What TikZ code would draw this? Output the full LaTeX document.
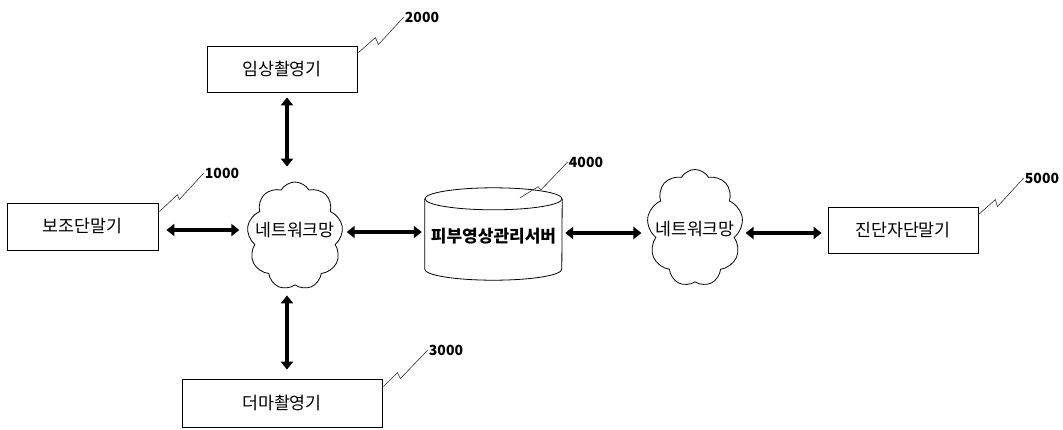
\documentclass[tikz,border=0pt]{standalone}
\usepackage{fontspec}
\setmainfont{Noto Sans CJK KR}
\usetikzlibrary{shapes.symbols,arrows.meta,calc}
\begin{document}
\begin{tikzpicture}[x=1pt,y=-1pt,
 box/.style={draw,line width=0.8pt,inner sep=0pt,font=\fontsize{17.3}{20}\selectfont},
 net/.style={cloud,draw,line width=0.8pt,cloud puffs=9,cloud puff arc=120,cloud ignores aspect,inner sep=0pt},
 nettext/.style={font=\fontsize{17.3}{20}\selectfont,inner sep=0pt},
 dbl/.style={line width=4pt,{Triangle[length=8pt,width=12pt]}-{Triangle[length=8pt,width=12pt]}},
 leader/.style={line width=0.6pt,black!80},
 num/.style={font=\bfseries\fontsize{14}{16}\selectfont,inner sep=1pt}]
\useasboundingbox[fill=white] (0,0) rectangle (1063,429);

% boxes
\node[box,minimum width=150pt,minimum height=46pt] (b2) at (282,69) {임상촬영기};
\node[box,minimum width=151pt,minimum height=47pt] (b1) at (82.5,226.5) {보조단말기};
\node[box,minimum width=200pt,minimum height=48pt] (b3) at (282,403) {더마촬영기};
\node[box,minimum width=150pt,minimum height=46pt] (b5) at (903,230) {진단자단말기};

% clouds
\node[net,minimum width=96pt,minimum height=108pt] (c1) at (295,236) {};
\node[nettext] (c1t) at (295,230) {네트워크망};
\node[net,minimum width=96pt,minimum height=117pt] (c2) at (695,228) {};
\node[nettext] (c2t) at (695,229) {네트워크망};

% server cylinder
\node[minimum width=137pt,minimum height=92pt,inner sep=0pt] (srv) at (493.5,234) {};
\draw[line width=0.8pt] ($(srv.north)+(0,11)$) ellipse [x radius=68.5pt, y radius=11pt];
\draw[line width=0.8pt] ($(srv.north west)+(0,11)$) -- ($(srv.south west)+(0,-11)$)
  arc[start angle=180,end angle=360,x radius=68.5pt,y radius=11pt]
  -- ($(srv.north east)+(0,11)$);
\node[font=\bfseries\fontsize{17}{20}\selectfont,inner sep=0pt] (srvt) at (493.5,236) {피부영상관리서버};

% labels
\node[num] (l2) at (422,17) {2000};
\node[num] (l1) at (222,173) {1000};
\node[num] (l4) at (586,162) {4000};
\node[num] (l5) at (1042,178) {5000};
\node[num] (l3) at (446,350) {3000};

% leaders
\draw[leader] ($(b2.north east)+(1,7)$) -- ++(17,-15) -- ++(3,7) -- (l2.west);
\draw[leader] ($(b1.north east)+(1,9)$) -- ++(18,-17) -- ++(2,5) -- (l1.west);
\draw[leader] ($(srv.north)+(26.5,10)$) -- ++(18,-11) -- ++(3,3) -- (l4.west);
\draw[leader] ($(b5.north east)+(0,8)$) -- ++(17,-15) -- ++(2,7) -- (l5.west);
\draw[leader] ($(b3.north east)+(1,8)$) -- ++(14,-14) -- ++(3,6) -- (l3.west);

% arrows
\draw[dbl,shorten <=8pt,shorten >=9pt] (b1.east |- c1t.center) -- (c1.west |- c1t.center);
\draw[dbl,shorten <=5pt,shorten >=3pt] ($(c1.east |- c1t.center)+(0,2)$) -- ($(srv.west |- c1t.center)+(0,2)$);
\draw[dbl,shorten <=3pt,shorten >=7pt] ($(srv.east |- c2t.center)+(0,4)$) -- ($(c2.west |- c2t.center)+(0,4)$);
\draw[dbl,shorten <=4pt,shorten >=6pt] ($(c2.east |- c2t.center)+(0,4)$) -- ($(b5.west |- c2t.center)+(0,4)$);
\draw[dbl,shorten <=5pt,shorten >=15pt] ([xshift=5pt]b2.south) -- ([xshift=5pt]b2.south |- c1.north);
\draw[dbl,shorten <=10pt,shorten >=9pt] ([xshift=5pt]b3.north |- c1.south) -- ([xshift=5pt]b3.north);
\end{tikzpicture}
\end{document}
